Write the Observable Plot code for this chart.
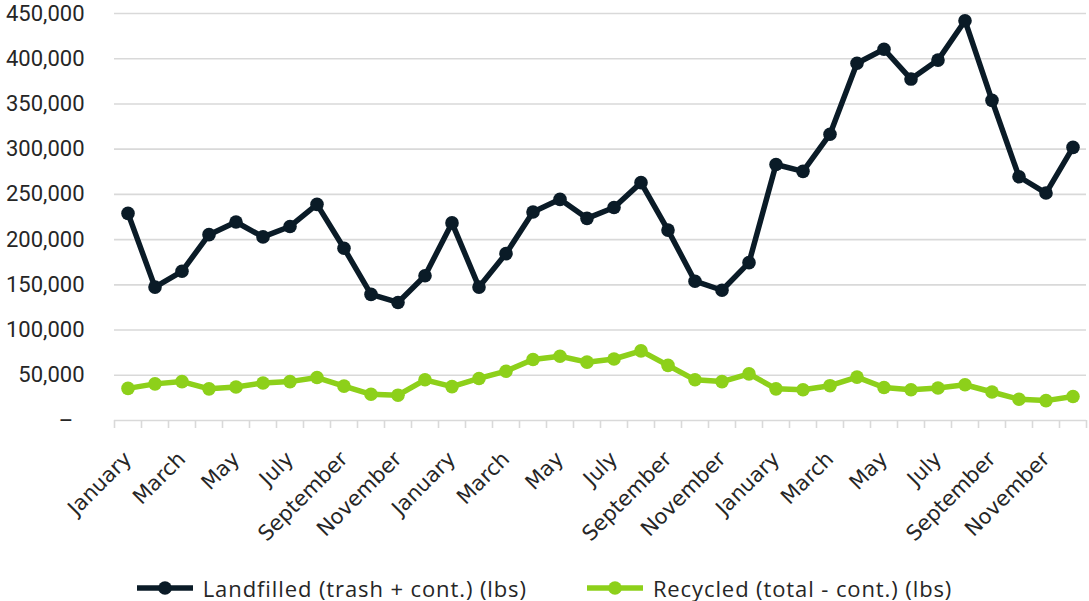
<!DOCTYPE html>
<html>
<head>
<meta charset="utf-8">
<script src="https://cdn.jsdelivr.net/npm/d3@7"></script>
<script src="https://cdn.jsdelivr.net/npm/@observablehq/plot@0.6"></script>
<style>
  body { margin: 0; background: #fff; }
  #chart svg { display: block; }
  #legend {
    display: flex; justify-content: center; align-items: center;
    gap: 60px; height: 51px; padding-top: 24px; box-sizing: border-box;
    font-family: "Open Sans", sans-serif; font-size: 22px; letter-spacing: 0.9px; color: #262626;
  }
  .item { display: flex; align-items: center; }
  .item svg { margin-right: 10px; }
</style>
</head>
<body>
<div id="chart"></div>
<div id="legend"></div>
<script>
// Month names; the 36 periods run January–December over three years
const monthNames = ["January", "February", "March", "April", "May", "June",
  "July", "August", "September", "October", "November", "December"];

const seriesNames = ["Landfilled (trash + cont.) (lbs)", "Recycled (total - cont.) (lbs)"];
const seriesColors = ["#0a1b27", "#8dd01a"];

// Pounds per month
const landfilled = [
  229000, 147500, 165000, 205500, 219500, 203000, 214500, 239000, 190500, 139500, 130500, 160000,
  218500, 147500, 184500, 230500, 244500, 223500, 235500, 263000, 210500, 154000, 144000, 174500,
  283000, 275500, 316500, 395000, 410500, 377500, 398500, 442000, 354000, 269500, 251500, 302000
];
const recycled = [
  35500, 40500, 43000, 35000, 37000, 41500, 43000, 47500, 38000, 29000, 28000, 45000,
  37500, 46500, 54500, 67500, 71000, 64500, 68000, 77000, 61000, 45000, 43000, 51500,
  35000, 34000, 38500, 48000, 36500, 34000, 36000, 39500, 31500, 23500, 22000, 26500
];

// y-axis tick values
const yTicks = [0, 50000, 100000, 150000, 200000, 250000, 300000, 350000, 400000, 450000];

const rows = [
  ...landfilled.map((value, i) => ({i, series: seriesNames[0], value})),
  ...recycled.map((value, i) => ({i, series: seriesNames[1], value}))
];

const periods = d3.range(landfilled.length);
const edges = d3.range(landfilled.length + 1).map(k => k - 0.5);
const labelTicks = periods.filter(i => i % 2 === 0);
const fmt = d3.format(",");

const chart = Plot.plot({
  width: 1089,
  height: 550,
  marginLeft: 114,
  marginRight: 3,
  marginTop: 13,
  marginBottom: 130,
  style: {fontFamily: "Roboto, sans-serif", fontSize: "22px", color: "#262626", background: "#fff"},
  x: {type: "linear", domain: [-0.5, landfilled.length - 0.5]},
  y: {domain: [0, 450000]},
  color: {domain: seriesNames, range: seriesColors},
  marks: [
    Plot.gridY(yTicks, {stroke: "#d9d9d9", strokeOpacity: 1, strokeWidth: 1.6}),
    Plot.axisY(yTicks, {
      tickSize: 0, tickPadding: 30, label: null,
      tickFormat: d => d === 0 ? "–\u2002" : fmt(d)
    }),
    Plot.axisX(edges, {tickSize: 8, stroke: "#d9d9d9", strokeOpacity: 1, strokeWidth: 1.6, tickFormat: () => "", label: null}),
    Plot.axisX(labelTicks, {
      tickSize: 0, tickPadding: 35, tickRotate: -45, label: null,
      fontFamily: "DejaVu Sans", fontSize: 21,
      tickFormat: i => monthNames[i % 12]
    }),
    Plot.line(rows, {x: "i", y: "value", z: "series", stroke: "series", strokeWidth: 5.5, strokeLinejoin: "round"}),
    Plot.dot(rows, {x: "i", y: "value", fill: "series", r: 6.8})
  ]
});

// month labels: DejaVu Sans
chart.querySelectorAll("text").forEach(t => {
  if (monthNames.includes(t.textContent)) {
    t.style.fontFamily = "'DejaVu Sans', sans-serif";
    t.style.fontSize = "21px";
  }
});
document.getElementById("chart").append(chart);

// Legend beneath the plot
const legend = d3.select("#legend");
seriesNames.forEach((name, k) => {
  const item = legend.append("div").attr("class", "item");
  const sw = item.append("svg").attr("width", 56).attr("height", 16);
  sw.append("line").attr("x1", 1).attr("x2", 55).attr("y1", 8).attr("y2", 8)
    .attr("stroke", seriesColors[k]).attr("stroke-width", 5.5).attr("stroke-linecap", "round");
  sw.append("circle").attr("cx", 28).attr("cy", 8).attr("r", 6.8).attr("fill", seriesColors[k]);
  item.append("span").text(name);
});
</script>
</body>
</html>
